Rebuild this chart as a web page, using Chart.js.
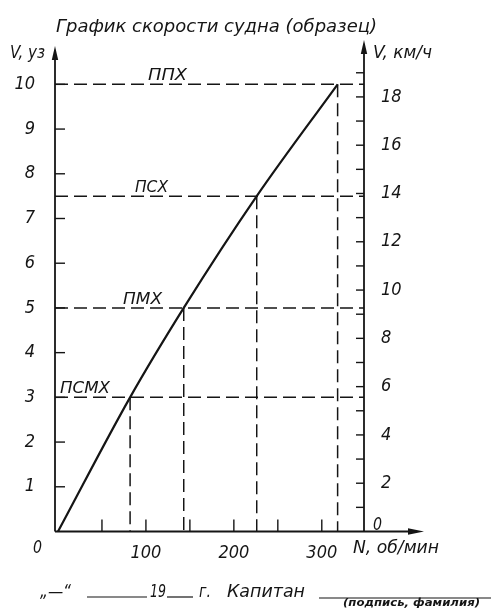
<!DOCTYPE html>
<html>
<head>
<meta charset="utf-8">
<script src="https://cdn.jsdelivr.net/npm/chart.js@4.4.0/dist/chart.umd.min.js"></script>
<style>
html,body{margin:0;padding:0;background:#fff;}
#wrap{position:relative;width:491px;height:608px;}
canvas{display:block;}
</style>
</head>
<body>
<div id="wrap"><canvas id="c" width="491" height="608"></canvas></div>
<script>
// ---- data ----
const modes = ['ПСМХ', 'ПМХ', 'ПСХ', 'ППХ'];
const speedKnots = [3, 5, 7.5, 10];
const rpm = [82, 143, 226, 318];
const curveRpm = [0, 82, 143, 226, 318];
const curveKnots = [0, 3, 5, 7.5, 10];
const leftTicks = [1, 2, 3, 4, 5, 6, 7, 8, 9, 10];
const rightTicks = [1, 2, 3, 4, 5, 6, 7, 8, 9, 10, 11, 12, 13, 14, 15, 16, 17, 18, 19];
const rightLabels = [2, 4, 6, 8, 10, 12, 14, 16, 18];
const xTicks = [50, 100, 150, 200, 250, 300];
const xLabels = [100, 200, 300];
const KMH_PER_KNOT = 1.852;
const X_MIN = -3.4, X_MAX = 348, Y_MAX = 10.5;

const titleText = 'График скорости судна (образец)';
const leftAxisTitle = 'V, уз';
const rightAxisTitle = 'V, км/ч';
const xAxisTitle = 'N, об/мин';

// ---- style ----
const INK = '#151515';
const FAM = "'Liberation Sans Narrow','DejaVu Sans Condensed','Liberation Sans',sans-serif";

const datasets = [];
datasets.push({
  data: curveRpm.map((n, i) => ({x: n, y: curveKnots[i]})),
  borderColor: INK, borderWidth: 2.2, pointRadius: 0, tension: 0,
  cubicInterpolationMode: 'monotone'
});
speedKnots.forEach((v, i) => {
  datasets.push({
    data: [{x: X_MIN, y: v}, {x: X_MAX, y: v}],
    borderColor: INK, borderWidth: 1.5, borderDash: [13, 6], pointRadius: 0
  });
  datasets.push({
    data: [{x: rpm[i], y: v}, {x: rpm[i], y: 0}],
    borderColor: INK, borderWidth: 1.5, borderDash: [13, 6], pointRadius: 0
  });
});

function fitText(ctx, text, x, y, w, size, weight) {
  ctx.save();
  ctx.font = 'italic ' + (weight || 'normal') + ' ' + size + 'px ' + FAM;
  ctx.textBaseline = 'alphabetic';
  ctx.textAlign = 'left';
  const m = ctx.measureText(text).width;
  ctx.translate(x, y);
  ctx.scale(w / m, 1);
  ctx.fillText(text, 0, 0);
  ctx.restore();
}
function seg(ctx, x1, y1, x2, y2) {
  ctx.beginPath(); ctx.moveTo(x1, y1); ctx.lineTo(x2, y2); ctx.stroke();
}
function arrow(ctx, x, y, dir) {
  ctx.beginPath();
  if (dir === 'up') {
    ctx.moveTo(x, y); ctx.lineTo(x - 3.2, y + 14); ctx.lineTo(x + 3.2, y + 14);
  } else {
    ctx.moveTo(x, y); ctx.lineTo(x - 16, y - 3.2); ctx.lineTo(x - 16, y + 3.2);
  }
  ctx.closePath(); ctx.fill();
}

const drawing = {
  id: 'drawing',
  afterDatasetsDraw(chart) {
    const {ctx, chartArea: a, scales} = chart;
    const xs = scales.x, yl = scales.y, yr = scales.yR;
    ctx.save();
    ctx.strokeStyle = INK; ctx.fillStyle = INK; ctx.lineWidth = 1.8;
    // axes
    seg(ctx, a.left, a.bottom, a.left, 56); arrow(ctx, a.left, 46, 'up');
    seg(ctx, a.right, a.bottom, a.right, 50); arrow(ctx, a.right, 40, 'up');
    seg(ctx, a.left, a.bottom, 412, a.bottom); arrow(ctx, 424, a.bottom, 'right');
    // tick marks
    ctx.lineWidth = 1.4;
    leftTicks.forEach(v => { const y = yl.getPixelForValue(v); seg(ctx, a.left, y, a.left + 10, y); });
    rightTicks.forEach(v => { const y = yr.getPixelForValue(v); seg(ctx, a.right - 8, y, a.right, y); });
    xTicks.forEach(v => { const x = xs.getPixelForValue(v); seg(ctx, x, a.bottom, x, a.bottom - 12); });
    // mode labels
    const lblX = [60, 123, 135, 148];
    const lblW = [50, 39, 33, 39];
    modes.forEach((m, i) => {
      const y = yl.getPixelForValue(speedKnots[i]) - 4;
      fitText(ctx, m, lblX[i], y, lblW[i], 16);
    });
    // title and axis titles
    fitText(ctx, titleText, 56, 32, 321, 17);
    fitText(ctx, leftAxisTitle, 10, 58, 35, 18);
    fitText(ctx, rightAxisTitle, 373, 58, 59, 18);
    fitText(ctx, xAxisTitle, 353, 553, 86, 18);
    fitText(ctx, '0', 33, 553, 9, 18);
    fitText(ctx, '0', 373, 530, 9, 18);
    // footer
    fitText(ctx, '„—“', 40, 597, 31, 18);
    ctx.lineWidth = 1.2;
    seg(ctx, 87, 597, 147, 597);
    fitText(ctx, '19', 150, 597, 16, 18);
    seg(ctx, 167, 597, 193, 597);
    fitText(ctx, 'г.', 199, 597, 12, 18);
    fitText(ctx, 'Капитан', 227, 597, 78, 18);
    seg(ctx, 319, 598, 491, 598);
    fitText(ctx, '(подпись, фамилия)', 343, 606, 137, 11, 'bold');
    ctx.restore();
  }
};

const tickFont = {family: FAM, size: 18, style: 'italic'};

new Chart(document.getElementById('c'), {
  type: 'line',
  data: {datasets},
  plugins: [drawing],
  options: {
    responsive: false,
    animation: false,
    devicePixelRatio: 1,
    layout: {padding: {top: 62, left: 0, right: 0, bottom: 0}},
    plugins: {legend: {display: false}, tooltip: {enabled: false}, title: {display: false}},
    elements: {line: {borderCapStyle: 'butt'}},
    scales: {
      x: {
        type: 'linear', position: 'bottom', min: X_MIN, max: X_MAX,
        grid: {display: false}, border: {display: false},
        afterBuildTicks: s => { s.ticks = xTicks.map(v => ({value: v})); },
        afterFit: s => { s.height = 76.5; },
        ticks: {
          color: INK, font: tickFont, padding: 3, maxRotation: 0, autoSkip: false,
          callback: v => xLabels.includes(v) ? String(v) : ''
        }
      },
      y: {
        type: 'linear', position: 'left', min: 0, max: Y_MAX,
        grid: {display: false}, border: {display: false},
        afterBuildTicks: s => { s.ticks = leftTicks.map(v => ({value: v})); },
        afterFit: s => { s.width = 55; },
        ticks: {color: INK, font: tickFont, padding: 12, autoSkip: false, callback: v => String(v)}
      },
      yR: {
        type: 'linear', position: 'right', min: 0, max: Y_MAX * KMH_PER_KNOT,
        grid: {display: false}, border: {display: false},
        afterBuildTicks: s => { s.ticks = rightTicks.map(v => ({value: v})); },
        afterFit: s => { s.width = 127; },
        ticks: {
          color: INK, font: tickFont, padding: 9, autoSkip: false,
          callback: v => rightLabels.includes(v) ? String(v) : ''
        }
      }
    }
  }
});
</script>
</body>
</html>
